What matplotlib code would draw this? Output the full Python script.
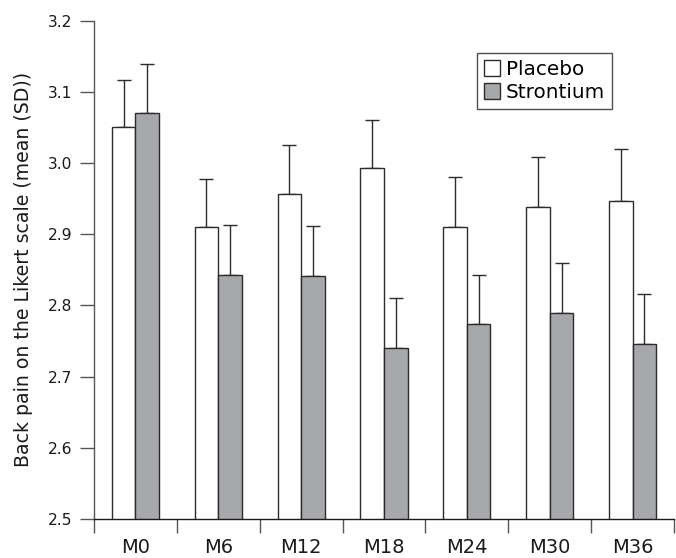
import matplotlib

matplotlib.use("Agg")
import matplotlib.pyplot as plt  # noqa: E402
import numpy as np  # noqa: E402
from matplotlib.patches import Patch  # noqa: E402

plt.rcParams["font.family"] = ["DejaVu Sans"]

visits = ["M0", "M6", "M12", "M18", "M24", "M30", "M36"]
placebo_mean = [3.051, 2.910, 2.956, 2.993, 2.910, 2.938, 2.947]
placebo_sd = [0.066, 0.067, 0.070, 0.067, 0.070, 0.070, 0.073]
strontium_mean = [3.071, 2.843, 2.841, 2.740, 2.774, 2.789, 2.746]
strontium_sd = [0.068, 0.070, 0.070, 0.070, 0.069, 0.070, 0.070]

GREY = "#a7a8ab"
EDGE = "#2b2b2b"
AXIS = "#555555"
INK = "#1a1a1a"

fig = plt.figure(figsize=(6.76, 5.58), dpi=100)
ax = fig.add_axes([94 / 676, 39 / 558, 580 / 676, 498.3 / 558])

x = np.arange(len(visits)) + 0.5
w = 0.285
ax.bar(x - w / 2, placebo_mean, w, color="white", edgecolor=EDGE, linewidth=1.0, zorder=2)
ax.bar(x + w / 2, strontium_mean, w, color=GREY, edgecolor=EDGE, linewidth=1.0, zorder=2)
zeros = [0] * len(visits)
ax.errorbar(x - w / 2, placebo_mean, yerr=[zeros, placebo_sd], fmt="none",
            ecolor=EDGE, elinewidth=1.0, capsize=4.8, capthick=1.0, zorder=1)
ax.errorbar(x + w / 2, strontium_mean, yerr=[zeros, strontium_sd], fmt="none",
            ecolor=EDGE, elinewidth=1.0, capsize=4.8, capthick=1.0, zorder=1)

ax.set_xlim(0, len(visits))
ax.set_ylim(2.5, 3.2)
yt = np.arange(2.5, 3.21, 0.1)
ax.set_yticks(yt)
ax.set_yticklabels([f"{v:.1f}" for v in yt])

# group boundaries as major ticks, labels at centres
ax.set_xticks(np.arange(len(visits) + 1))
ax.set_xticklabels([])
ax.set_xticks(x, minor=True)
ax.set_xticklabels(visits, minor=True)
ax.tick_params(axis="x", which="major", length=10, width=1.0, color=AXIS, direction="out")
ax.tick_params(axis="x", which="minor", length=0, pad=13.5, labelsize=14, labelcolor=INK)
ax.tick_params(axis="y", length=10, width=1.0, color=AXIS, direction="out",
               pad=5.5, labelsize=11.2, labelcolor=INK)

for side in ("top", "right"):
    ax.spines[side].set_visible(False)
ax.spines["left"].set_color(AXIS)
ax.spines["bottom"].set_color(INK)
ax.spines["left"].set_linewidth(1.0)
ax.spines["bottom"].set_linewidth(1.0)

ax.set_ylabel("Back pain on the Likert scale (mean (SD))", fontsize=13.6, color=INK)
ax.yaxis.set_label_coords(-0.106, 0.5)

handles = [
    Patch(facecolor="white", edgecolor=EDGE, linewidth=1.0, label="Placebo"),
    Patch(facecolor=GREY, edgecolor=EDGE, linewidth=1.0, label="Strontium"),
]
leg = fig.legend(handles=handles, loc="upper left", bbox_to_anchor=(477 / 676, 1 - 53 / 558),
                 frameon=True, fancybox=False, fontsize=14.4, handlelength=0.8,
                 handleheight=0.8, handletextpad=0.3, borderpad=0.35,
                 labelspacing=0.2, borderaxespad=0)
leg.get_frame().set_edgecolor("#222222")
leg.get_frame().set_linewidth(1.0)

fig.savefig("out.png", dpi=100)
